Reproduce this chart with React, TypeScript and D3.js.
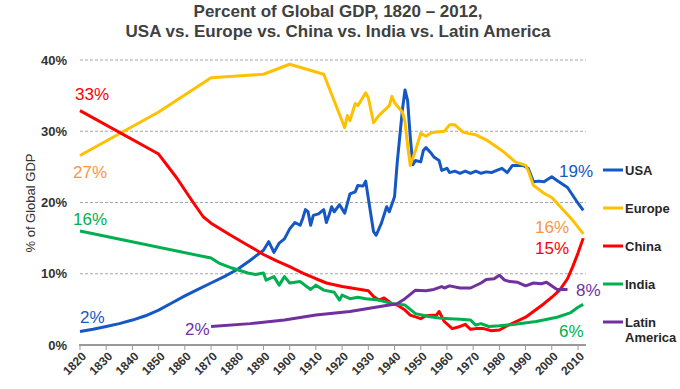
import { scaleLinear, line, curveLinear, range } from "d3";

// [year, % of global GDP]
const usa: [number, number][] = [
  [1820, 1.9], [1825, 2.2], [1830, 2.6], [1835, 3.0], [1840, 3.5], [1845, 4.1],
  [1850, 4.9], [1855, 5.9], [1860, 6.9], [1865, 7.8], [1870, 8.7], [1875, 9.6],
  [1880, 10.6], [1885, 11.9], [1890, 13.3], [1892, 14.5], [1894, 13.0], [1896, 14.3], [1898, 14.9],
  [1900, 16.3], [1902, 17.2], [1904, 16.8], [1905, 17.8], [1906, 19.0], [1907, 18.7],
  [1908, 16.8], [1909, 18.2], [1911, 18.4], [1913, 19.0], [1914, 17.2], [1915, 18.2],
  [1916, 19.4], [1917, 18.7], [1919, 19.7], [1921, 18.5], [1923, 21.2], [1925, 21.5],
  [1926, 22.4], [1928, 22.3], [1929, 23.0], [1930, 20.6], [1932, 15.9], [1933, 15.4],
  [1935, 17.1], [1937, 19.4], [1938, 18.7], [1940, 20.8], [1941, 25.5], [1943, 33.0],
  [1944, 35.8], [1945, 34.3], [1946, 29.2], [1947, 25.3], [1948, 25.9], [1950, 25.7],
  [1951, 27.3], [1952, 27.7], [1954, 26.9], [1955, 26.4], [1957, 25.9], [1958, 24.5],
  [1960, 24.8], [1961, 24.2], [1963, 24.4], [1965, 24.1], [1967, 24.4], [1969, 24.1],
  [1971, 24.4], [1973, 24.1], [1975, 24.3], [1977, 24.2], [1979, 24.5], [1981, 24.8],
  [1983, 24.2], [1985, 25.2], [1989, 25.2], [1991, 24.8], [1993, 22.9], [1995, 23.0],
  [1997, 22.9], [2000, 23.6], [2002, 23.1], [2006, 22.1], [2010, 19.9], [2012, 18.9],
];

const europe: [number, number][] = [
  [1820, 26.6], [1850, 32.7], [1870, 37.5], [1890, 38.0], [1900, 39.4], [1913, 38.0],
  [1921, 30.5], [1922, 32.2], [1923, 31.5], [1925, 33.9], [1926, 33.6], [1929, 35.4],
  [1930, 34.7], [1932, 31.2], [1934, 32.2], [1936, 32.9], [1938, 33.6], [1939, 34.9],
  [1940, 34.0], [1943, 32.7], [1944, 31.3], [1945, 28.0], [1946, 25.2], [1948, 27.3],
  [1950, 29.7], [1952, 29.3], [1954, 29.8], [1956, 29.9], [1959, 30.0], [1961, 30.9],
  [1963, 30.9], [1966, 29.9], [1968, 29.7], [1971, 29.5], [1975, 28.8], [1979, 27.8],
  [1982, 27.0], [1986, 25.7], [1990, 25.2], [1991, 24.5], [1993, 22.4], [1997, 21.3],
  [2000, 20.7], [2003, 19.5], [2008, 17.5], [2012, 15.6],
];

const china: [number, number][] = [
  [1820, 32.9], [1850, 26.8], [1857, 23.4], [1863, 20.1], [1867, 18.0], [1870, 17.1],
  [1877, 15.5], [1885, 13.8], [1890, 12.7], [1895, 11.8], [1900, 11.0], [1905, 10.1],
  [1910, 9.3], [1914, 8.7], [1920, 8.2], [1930, 7.6], [1932, 6.8],
  [1934, 6.3], [1936, 6.6], [1939, 5.8], [1941, 5.6], [1944, 4.9], [1946, 4.2],
  [1950, 3.7], [1952, 4.1], [1956, 4.2], [1957, 4.7], [1959, 3.3], [1962, 2.3],
  [1965, 2.6], [1967, 2.9], [1969, 2.2], [1971, 2.3], [1974, 2.3], [1977, 2.0],
  [1980, 2.1], [1983, 2.7], [1987, 3.4], [1990, 3.9], [1993, 4.7], [1997, 5.8],
  [2000, 6.7], [2003, 7.7], [2006, 9.3], [2008, 11.0], [2010, 12.9], [2012, 15.0],
];

const india: [number, number][] = [
  [1820, 16.0], [1870, 12.2], [1873, 11.5], [1878, 10.8], [1884, 10.1], [1887, 9.9],
  [1890, 10.1], [1891, 9.1], [1894, 9.6], [1896, 8.4], [1898, 9.6], [1900, 8.7],
  [1904, 8.9], [1908, 7.8], [1910, 8.4], [1913, 7.7], [1917, 7.4], [1919, 6.3],
  [1920, 7.0], [1923, 6.5], [1926, 6.7], [1929, 6.5], [1934, 6.3], [1939, 5.8],
  [1944, 5.6], [1946, 5.0], [1948, 4.4], [1953, 4.0], [1957, 3.8], [1961, 3.7],
  [1965, 3.6], [1969, 3.5], [1971, 2.8], [1973, 3.0], [1976, 2.6], [1980, 2.7],
  [1986, 2.9], [1994, 3.3], [2002, 3.9], [2007, 4.5], [2010, 5.3], [2012, 5.7],
];

const latinAmerica: [number, number][] = [
  [1870, 2.6], [1885, 3.0], [1898, 3.5], [1910, 4.2], [1923, 4.7], [1938, 5.6],
  [1941, 5.8], [1944, 6.5], [1948, 7.7], [1952, 7.6], [1955, 7.8], [1958, 8.2],
  [1959, 8.0], [1961, 8.3], [1965, 8.0], [1969, 8.0], [1973, 8.7], [1975, 9.2],
  [1978, 9.3], [1980, 9.8], [1982, 9.1], [1984, 8.9], [1987, 8.8], [1990, 8.3],
  [1993, 8.7], [1996, 8.6], [1998, 8.8], [2002, 7.8], [2006, 7.8],
];

const yearTicks = range(1820, 2011, 10);
const pctTicks = [0, 10, 20, 30, 40];

const width = 680;
const height = 389;
const font = "'Liberation Sans', Arial, sans-serif";

const series = [
  { name: "USA", data: usa, color: "#1557c4" },
  { name: "Europe", data: europe, color: "#ffc000" },
  { name: "China", data: china, color: "#ff0000" },
  { name: "India", data: india, color: "#00b050" },
  { name: "Latin America", data: latinAmerica, color: "#7030a0" },
];

// end/start labels: [text, color, x, y]
const labels: [string, string, number, number][] = [
  ["33%", "#ff0000", 75, 100],
  ["27%", "#f79646", 73, 178],
  ["16%", "#00b050", 73, 225],
  ["2%", "#1557c4", 80, 323],
  ["2%", "#7030a0", 185, 335],
  ["19%", "#1557c4", 559, 177],
  ["16%", "#f79646", 535, 233],
  ["15%", "#ff0000", 535, 254],
  ["8%", "#7030a0", 576, 296],
  ["6%", "#00b050", 559, 337],
];

const legendY = [170, 208, 246, 284, 322];

export default function App() {
  const x = scaleLinear().domain([1820, 2010]).range([80, 578]);
  const y = scaleLinear().domain([0, 40]).range([345, 60]);
  const xEnd = x(2013);

  const path = line<[number, number]>()
    .x((d) => x(d[0]))
    .y((d) => y(d[1]))
    .curve(curveLinear);

  return (
    <svg
      width={width}
      height={height}
      style={{ position: "absolute", left: 0, top: 0, background: "#fff" }}
      fontFamily={font}
    >
      <text x={338} y={17} textAnchor="middle" fontSize={17} fontWeight="bold" fill="#404040">
        Percent of Global GDP, 1820 – 2012,
      </text>
      <text x={338} y={37} textAnchor="middle" fontSize={17} fontWeight="bold" fill="#404040">
        USA vs. Europe vs. China vs. India vs. Latin America
      </text>

      {pctTicks.filter((t) => t > 0).map((t) => (
        <line key={t} x1={80} x2={xEnd} y1={y(t)} y2={y(t)} stroke="#a6a6a6" strokeDasharray="3,2" />
      ))}
      {pctTicks.map((t) => (
        <text key={t} x={67} y={y(t)} dy="0.35em" textAnchor="end" fontSize={13} fontWeight="bold" fill="#333">
          {t}%
        </text>
      ))}
      <text
        transform={`translate(35, 203) rotate(-90)`}
        textAnchor="middle"
        fontSize={13}
        fill="#333"
      >
        % of Global GDP
      </text>

      <line x1={79} x2={xEnd} y1={345} y2={345} stroke="#999" strokeWidth={2} />
      {yearTicks.map((t) => (
        <g key={t}>
          <line x1={x(t)} x2={x(t)} y1={345} y2={350} stroke="#999" strokeWidth={1} />
          <text
            transform={`translate(${x(t) + 4}, 354) rotate(-45)`}
            textAnchor="end"
            dy="0.35em"
            fontSize={12}
            fontWeight="bold"
            fill="#333"
          >
            {t}
          </text>
        </g>
      ))}

      {series.map((s) => (
        <path key={s.name} d={path(s.data) ?? ""} fill="none" stroke={s.color} strokeWidth={3} strokeLinejoin="round" />
      ))}

      {labels.map(([t, c, lx, ly], i) => (
        <text key={i} x={lx} y={ly} fontSize={17} fill={c}>
          {t}
        </text>
      ))}

      {series.map((s, i) => (
        <g key={s.name}>
          <line x1={603} x2={623} y1={legendY[i]} y2={legendY[i]} stroke={s.color} strokeWidth={3} />
          {s.name === "Latin America" ? (
            <text x={625} y={legendY[i]} dy="0.35em" fontSize={13} fontWeight="bold" fill="#262626">
              <tspan x={625}>Latin</tspan>
              <tspan x={625} dy="1.15em">America</tspan>
            </text>
          ) : (
            <text x={625} y={legendY[i]} dy="0.35em" fontSize={13} fontWeight="bold" fill="#262626">
              {s.name}
            </text>
          )}
        </g>
      ))}
    </svg>
  );
}
